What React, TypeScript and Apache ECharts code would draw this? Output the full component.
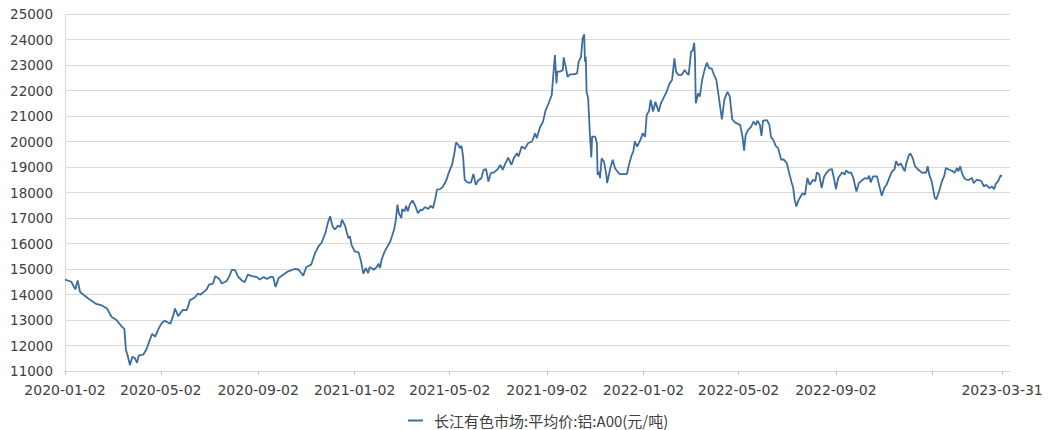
import React, { useEffect, useRef } from "react";
import * as echarts from "echarts";

const SERIES_NAME = "长江有色市场:平均价:铝:A00(元/吨)";

const dates2020 = [
  "2020-01-02", "2020-01-10", "2020-01-15", "2020-01-18", "2020-01-21", "2020-01-31",
  "2020-02-11", "2020-02-17", "2020-02-24",
  "2020-03-01", "2020-03-07", "2020-03-14", "2020-03-17", "2020-03-19", "2020-03-21", "2020-03-24", "2020-03-27", "2020-03-30",
  "2020-04-02", "2020-04-04", "2020-04-10", "2020-04-14", "2020-04-18", "2020-04-21", "2020-04-25", "2020-04-29",
  "2020-05-03", "2020-05-07", "2020-05-14", "2020-05-18", "2020-05-20", "2020-05-24", "2020-05-30",
  "2020-06-04", "2020-06-08", "2020-06-14", "2020-06-18", "2020-06-21", "2020-06-29",
  "2020-07-02", "2020-07-07", "2020-07-10", "2020-07-15", "2020-07-18", "2020-07-24", "2020-07-28", "2020-07-31",
  "2020-08-04", "2020-08-08", "2020-08-12", "2020-08-16", "2020-08-20", "2020-08-25", "2020-08-31",
  "2020-09-04", "2020-09-09", "2020-09-13", "2020-09-18", "2020-09-21", "2020-09-24", "2020-09-28",
  "2020-10-04", "2020-10-10", "2020-10-18", "2020-10-23", "2020-10-29",
  "2020-11-02", "2020-11-08", "2020-11-13", "2020-11-18", "2020-11-21", "2020-11-26", "2020-11-29",
  "2020-12-02", "2020-12-05", "2020-12-08", "2020-12-12", "2020-12-15", "2020-12-17", "2020-12-21", "2020-12-25", "2020-12-27", "2020-12-29",
];
const prices2020 = [
  14580, 14500, 14200, 14550, 14100, 13850,
  13620, 13580, 13450,
  13120, 13000, 12730, 12650, 11820, 11630, 11230, 11550, 11520,
  11320, 11600, 11650, 11850, 12210, 12450, 12350, 12640,
  12870, 12970, 12850, 13190, 13450, 13150, 13400,
  13390, 13780, 13880, 14040, 13990, 14200,
  14390, 14430, 14720, 14610, 14430, 14520, 14740, 14980,
  14950, 14690, 14560, 14480, 14780, 14720, 14690,
  14590, 14690, 14610, 14690, 14690, 14300, 14650,
  14780, 14910, 15000, 14980, 14740,
  15080, 15170, 15630, 15920, 16020, 16410, 16800,
  17070, 16680, 16550, 16700, 16650, 16940, 16680, 16210, 16280, 15950,
];

const dates2021 = [
  "2021-01-02", "2021-01-07", "2021-01-10", "2021-01-13", "2021-01-16", "2021-01-19", "2021-01-21", "2021-01-26", "2021-01-30",
  "2021-02-01", "2021-02-03", "2021-02-05", "2021-02-09", "2021-02-16", "2021-02-21", "2021-02-23", "2021-02-25", "2021-02-27",
  "2021-03-02", "2021-03-03", "2021-03-06", "2021-03-08", "2021-03-10", "2021-03-13", "2021-03-16", "2021-03-19", "2021-03-23", "2021-03-26", "2021-03-28",
  "2021-04-01", "2021-04-05", "2021-04-08", "2021-04-11", "2021-04-14", "2021-04-16", "2021-04-20", "2021-04-23", "2021-04-26", "2021-04-28",
  "2021-05-01", "2021-05-05", "2021-05-08", "2021-05-10", "2021-05-13", "2021-05-15", "2021-05-17", "2021-05-19", "2021-05-21", "2021-05-25", "2021-05-29",
  "2021-06-01", "2021-06-04", "2021-06-07", "2021-06-11", "2021-06-14", "2021-06-17", "2021-06-20", "2021-06-23", "2021-06-27",
  "2021-07-02", "2021-07-05", "2021-07-08", "2021-07-11", "2021-07-15", "2021-07-19", "2021-07-22", "2021-07-26", "2021-07-28",
  "2021-08-01", "2021-08-05", "2021-08-09", "2021-08-14", "2021-08-18", "2021-08-20", "2021-08-24", "2021-08-28", "2021-08-31",
  "2021-09-04", "2021-09-08", "2021-09-10", "2021-09-12", "2021-09-14", "2021-09-15", "2021-09-18", "2021-09-22", "2021-09-23", "2021-09-26", "2021-09-28",
  "2021-10-01", "2021-10-05", "2021-10-10", "2021-10-12", "2021-10-15", "2021-10-17", "2021-10-19", "2021-10-20", "2021-10-21", "2021-10-22", "2021-10-24", "2021-10-26", "2021-10-28", "2021-10-29",
  "2021-11-02", "2021-11-04", "2021-11-05", "2021-11-07", "2021-11-08", "2021-11-10", "2021-11-13", "2021-11-16", "2021-11-17", "2021-11-21", "2021-11-24", "2021-11-27", "2021-11-30",
  "2021-12-03", "2021-12-07", "2021-12-12", "2021-12-14", "2021-12-18", "2021-12-20", "2021-12-22", "2021-12-25", "2021-12-29",
];
const prices2021 = [
  15690, 15650, 15300, 14820, 15040, 14840, 15080, 14970, 15080,
  15210, 15040, 15370, 15690, 16080, 16570, 16930, 17520, 17170,
  17000, 17350, 17260, 17480, 17260, 17560, 17690, 17520, 17190, 17320, 17300,
  17430, 17350, 17480, 17390, 17780, 18110, 18130, 18210, 18370, 18500,
  18790, 19080, 19540, 19960, 19870, 19740, 19830, 19410, 18500, 18390, 18390,
  18730, 18300, 18470, 18560, 18890, 18920, 18430, 18760, 18790,
  18920, 19080, 18890, 19110, 19370, 19080, 19340, 19540, 19410,
  19800, 19710, 19930, 20000, 20320, 20130, 20540, 20780, 21200,
  21500, 21820, 22610, 23390, 22280, 22740, 22740, 22800, 23300, 22870, 22540,
  22630, 22630, 22670, 23130, 23320, 24040, 24200, 23130, 23320, 21950, 21690, 20390, 19370, 20190,
  20190, 19930, 18690, 18820, 18560, 19340, 19210, 18690, 18370, 18950, 19280, 18950, 18820,
  18720, 18720, 18720, 19020, 19470, 19600, 20000, 19800, 20060,
];

const dates2022 = [
  "2022-01-01", "2022-01-04", "2022-01-06", "2022-01-09", "2022-01-11", "2022-01-14", "2022-01-17", "2022-01-21", "2022-01-24", "2022-01-27", "2022-01-31",
  "2022-02-04", "2022-02-07", "2022-02-10", "2022-02-12", "2022-02-15", "2022-02-19", "2022-02-23", "2022-02-26", "2022-02-28",
  "2022-03-03", "2022-03-05", "2022-03-07", "2022-03-08", "2022-03-09", "2022-03-12", "2022-03-14", "2022-03-17", "2022-03-20", "2022-03-23", "2022-03-26", "2022-03-29",
  "2022-04-01", "2022-04-04", "2022-04-07", "2022-04-11", "2022-04-14", "2022-04-18", "2022-04-21", "2022-04-24", "2022-04-28",
  "2022-05-04", "2022-05-07", "2022-05-09", "2022-05-11", "2022-05-14", "2022-05-18", "2022-05-21", "2022-05-24", "2022-05-26", "2022-05-29", "2022-05-31",
  "2022-06-02", "2022-06-07", "2022-06-10", "2022-06-12", "2022-06-15", "2022-06-18", "2022-06-21", "2022-06-25", "2022-06-28",
  "2022-07-02", "2022-07-05", "2022-07-08", "2022-07-10", "2022-07-12", "2022-07-14", "2022-07-17", "2022-07-20", "2022-07-22", "2022-07-25", "2022-07-28", "2022-07-31",
  "2022-08-04", "2022-08-07", "2022-08-09", "2022-08-12", "2022-08-15", "2022-08-18", "2022-08-21", "2022-08-25", "2022-08-28", "2022-08-31",
  "2022-09-02", "2022-09-05", "2022-09-10", "2022-09-13", "2022-09-15", "2022-09-18", "2022-09-21", "2022-09-24", "2022-09-28",
  "2022-10-01", "2022-10-05", "2022-10-09", "2022-10-12", "2022-10-14", "2022-10-16", "2022-10-19", "2022-10-24", "2022-10-27", "2022-10-30",
  "2022-11-02", "2022-11-05", "2022-11-09", "2022-11-12", "2022-11-15", "2022-11-17", "2022-11-20", "2022-11-23", "2022-11-26", "2022-11-28", "2022-11-30",
  "2022-12-03", "2022-12-05", "2022-12-08", "2022-12-11", "2022-12-15", "2022-12-20", "2022-12-23", "2022-12-25", "2022-12-27", "2022-12-29",
];
const prices2022 = [
  20320, 20190, 21040, 21200, 21630, 21170, 21560, 21170, 21500, 21690, 21950,
  22280, 22410, 23260, 22740, 22610, 22610, 22800, 22670, 22610,
  23520, 23560, 23870, 23260, 21500, 21890, 21760, 22410, 22800, 23090, 22870, 22870,
  22610, 22410, 21760, 20870, 21630, 21950, 21760, 20870, 20740,
  20650, 20190, 19640, 20260, 20450, 20580, 20780, 20650, 20820, 20650, 20220,
  20820, 20840, 20650, 20190, 20060, 19830, 19740, 19280, 19300,
  19150, 18760, 18400, 18200, 17710, 17450, 17710, 17870, 17970, 17910, 18570, 18300,
  18500, 18440, 18790, 18700, 18170, 18610, 18770, 18900, 18920, 18500,
  18130, 18570, 18790, 18700, 18870, 18770, 18790, 18570, 18040,
  18370, 18480, 18570, 18530, 18660, 18400, 18630, 18630, 18240, 17870,
  18170, 18300, 18610, 18830, 18900, 19230, 19060, 19140, 18960, 18830, 19140,
  19450, 19530, 19360, 19030, 18900, 18770, 18790, 18770, 19030, 18700,
];

const dates2023 = [
  "2023-01-01", "2023-01-03", "2023-01-05", "2023-01-07", "2023-01-11", "2023-01-14", "2023-01-17", "2023-01-19", "2023-01-23", "2023-01-28", "2023-01-30",
  "2023-02-02", "2023-02-04", "2023-02-06", "2023-02-09", "2023-02-12", "2023-02-16", "2023-02-21", "2023-02-23", "2023-02-27",
  "2023-03-02", "2023-03-05", "2023-03-08", "2023-03-11", "2023-03-15", "2023-03-18", "2023-03-21", "2023-03-23", "2023-03-26", "2023-03-29", "2023-03-31",
];
const prices2023 = [
  18440, 18110, 17780, 17740, 18110, 18440, 18660, 18960, 18900, 18830, 18770,
  18960, 18830, 19030, 18700, 18530, 18480, 18570, 18370, 18500,
  18480, 18440, 18240, 18300, 18170, 18240, 18130, 18340, 18440, 18660, 18650,
];

const tickDates = [
  "2020-01-02", "2020-05-02", "2020-09-02", "2021-01-02", "2021-05-02", "2021-09-02",
  "2022-01-02", "2022-05-02", "2022-09-02", "2023-01-02", "2023-03-31",
];
const labelDates = [
  "2020-01-02", "2020-05-02", "2020-09-02", "2021-01-02", "2021-05-02", "2021-09-02",
  "2022-01-02", "2022-05-02", "2022-09-02", "2023-03-31",
];
const X_START = "2020-01-02";
const X_END = "2023-04-10";
const Y_MIN = 11000;
const Y_MAX = 25000;
const Y_STEP = 1000;

function ts(s: string): number {
  const [y, m, d] = s.split("-").map(Number);
  return new Date(y, m - 1, d).getTime();
}
function fmt(v: number): string {
  const d = new Date(v);
  const p = (n: number) => (n < 10 ? "0" + n : "" + n);
  return d.getFullYear() + "-" + p(d.getMonth() + 1) + "-" + p(d.getDate());
}

export default function App() {
  const ref = useRef<HTMLDivElement>(null);
  useEffect(() => {
    document.body.style.margin = "0";
    if (!ref.current) return;
    const chart = echarts.init(ref.current, undefined, { renderer: "svg" });
    const allDates = [...dates2020, ...dates2021, ...dates2022, ...dates2023];
    const allPrices = [...prices2020, ...prices2021, ...prices2022, ...prices2023];
    const data = allDates.map((d, i) => [ts(d), allPrices[i]]);
    const gray = "#d9d9d9";
    chart.setOption({
      animation: false,
      backgroundColor: "#ffffff",
      grid: { left: 65, right: 38, top: 14, bottom: 59, containLabel: false },
      legend: {
        data: [SERIES_NAME],
        left: 408,
        top: 412,
        padding: 0,
        icon: "rect",
        itemWidth: 15,
        itemHeight: 2,
        textStyle: {
          fontFamily: "Noto Sans CJK SC",
          fontSize: 15,
          lineHeight: 17,
          color: "#404040",
          padding: [0, 0, 0, 6],
        },
      },
      xAxis: {
        type: "value",
        min: ts(X_START),
        max: ts(X_END),
        scale: true,
        splitLine: { show: false },
        axisLine: { show: true, lineStyle: { color: gray, width: 1 } },
        axisTick: {
          show: true,
          customValues: tickDates.map(ts),
          length: 4,
          lineStyle: { color: "#bfbfbf" },
        },
        axisLabel: {
          customValues: labelDates.map(ts),
          formatter: (v: number) => fmt(v),
          fontFamily: "DejaVu Sans",
          fontSize: 14,
          color: "#404040",
          margin: 12,
          hideOverlap: false,
          showMinLabel: true,
          showMaxLabel: true,
        },
      },
      yAxis: {
        type: "value",
        min: Y_MIN,
        max: Y_MAX,
        interval: Y_STEP,
        axisLine: { show: true, lineStyle: { color: gray } },
        axisTick: { show: false },
        splitLine: { show: true, lineStyle: { color: gray, width: 1 } },
        axisLabel: {
          formatter: (v: number) => String(v),
          fontFamily: "DejaVu Sans",
          fontSize: 13.5,
          color: "#404040",
          margin: 12,
        },
      },
      series: [
        {
          name: SERIES_NAME,
          type: "line",
          data,
          showSymbol: false,
          symbol: "none",
          lineStyle: { color: "#3d6d9e", width: 1.8 },
          itemStyle: { color: "#3d6d9e" },
        },
      ],
    });
    return () => chart.dispose();
  }, []);
  return <div ref={ref} style={{ width: 1048, height: 430 }} />;
}
